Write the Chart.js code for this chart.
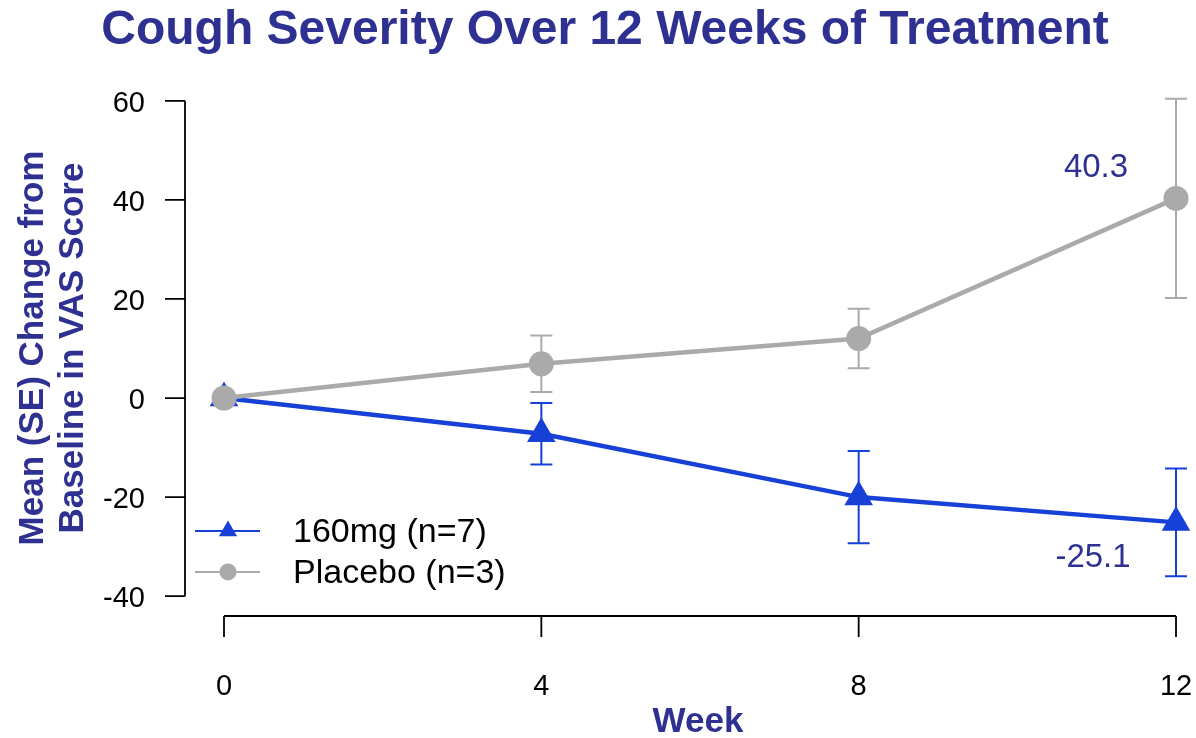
<!DOCTYPE html>
<html>
<head>
<meta charset="utf-8">
<title>Cough Severity</title>
<script src="https://cdn.jsdelivr.net/npm/chart.js"></script>
<style>
  html, body { margin: 0; padding: 0; background: #ffffff; }
  #wrap { position: relative; width: 1196px; height: 738px; }
</style>
</head>
<body>
<div id="wrap"><canvas id="coughChart" width="1196" height="738"></canvas></div>
<script>
// weeks of treatment and mean (SE) change from baseline in VAS score
var weeks = [0, 4, 8, 12];
var mean160 = [0, -7.2, -20.0, -25.1];
var se160 = [0, 6.2, 9.3, 10.9];
var meanPbo = [0, 6.9, 12.0, 40.3];
var sePbo = [0, 5.7, 6.0, 20.1];
var yTicks = [-40, -20, 0, 20, 40, 60];
var xTicks = [0, 4, 8, 12];
var seriesNames = ['160mg (n=7)', 'Placebo (n=3)'];

var BLUE = '#1640D6';
var GREY = '#AAAAAA';
var NAVY = '#2E3192';
var FONT = '"Liberation Sans", Arial, Helvetica, sans-serif';

function toPoints(xs, ys) {
    return xs.map(function (x, i) { return { x: x, y: ys[i] }; });
}

// mean +/- SE whiskers, drawn under the markers
var errorBars = {
    id: 'errorBars',
    beforeDatasetsDraw: function (chart) {
        var ctx = chart.ctx;
        var xs = chart.scales.x, ys = chart.scales.y;
        chart.data.datasets.forEach(function (ds) {
            ctx.save();
            ctx.strokeStyle = ds.borderColor;
            ctx.lineWidth = 2;
            ds.data.forEach(function (p, i) {
                var se = ds.se[i];
                if (!se) return;
                var px = xs.getPixelForValue(p.x);
                var top = ys.getPixelForValue(p.y + se);
                var bot = ys.getPixelForValue(p.y - se);
                ctx.beginPath();
                ctx.moveTo(px, top); ctx.lineTo(px, bot);
                ctx.moveTo(px - 11, top); ctx.lineTo(px + 11, top);
                ctx.moveTo(px - 11, bot); ctx.lineTo(px + 11, bot);
                ctx.stroke();
            });
            ctx.restore();
        });
    }
};

// axes, titles, end labels and legend
var decorations = {
    id: 'decorations',
    afterDraw: function (chart) {
        var ctx = chart.ctx;
        var xs = chart.scales.x, ys = chart.scales.y;
        var left = chart.chartArea.left, bottom = chart.chartArea.bottom;
        ctx.save();
        ctx.strokeStyle = '#000';
        ctx.fillStyle = '#000';
        ctx.lineWidth = 1.8;

        // y axis
        var yTop = ys.getPixelForValue(yTicks[yTicks.length - 1]);
        var yBot = ys.getPixelForValue(yTicks[0]);
        ctx.beginPath();
        ctx.moveTo(left, yTop); ctx.lineTo(left, yBot);
        yTicks.forEach(function (t) {
            var py = ys.getPixelForValue(t);
            ctx.moveTo(left - 20, py); ctx.lineTo(left, py);
        });
        ctx.stroke();
        ctx.font = '29px ' + FONT;
        ctx.textAlign = 'right';
        ctx.textBaseline = 'alphabetic';
        yTicks.forEach(function (t) {
            ctx.fillText(String(t), left - 40, ys.getPixelForValue(t) + 11);
        });

        // x axis
        var xL = xs.getPixelForValue(xTicks[0]);
        var xR = xs.getPixelForValue(xTicks[xTicks.length - 1]);
        ctx.beginPath();
        ctx.moveTo(xL, bottom); ctx.lineTo(xR, bottom);
        xTicks.forEach(function (t) {
            var px = xs.getPixelForValue(t);
            ctx.moveTo(px, bottom); ctx.lineTo(px, bottom + 21);
        });
        ctx.stroke();
        ctx.textAlign = 'center';
        xTicks.forEach(function (t) {
            ctx.fillText(String(t), xs.getPixelForValue(t), bottom + 79);
        });

        // titles
        ctx.fillStyle = NAVY;
        ctx.font = 'bold 48px ' + FONT;
        ctx.fillText('Cough Severity Over 12 Weeks of Treatment', 605, 44);
        ctx.font = 'bold 35px ' + FONT;
        ctx.fillText('Week', 698, 732);
        ctx.save();
        ctx.translate(43, 348);
        ctx.rotate(-Math.PI / 2);
        ctx.fillText('Mean (SE) Change from', 0, 0);
        ctx.restore();
        ctx.save();
        ctx.translate(83, 348);
        ctx.rotate(-Math.PI / 2);
        ctx.fillText('Baseline in VAS Score', 0, 0);
        ctx.restore();

        // values at week 12
        var last = weeks.length - 1;
        var x12 = xs.getPixelForValue(weeks[last]);
        ctx.font = '33px ' + FONT;
        ctx.fillText(meanPbo[last].toFixed(1), x12 - 80, ys.getPixelForValue(meanPbo[last]) - 21);
        ctx.fillText(mean160[last].toFixed(1), x12 - 83, ys.getPixelForValue(mean160[last]) + 45);

        // legend
        var rows = [
            { name: seriesNames[0], color: BLUE, style: 'triangle', r: 10.5, y: 531 },
            { name: seriesNames[1], color: GREY, style: 'circle', r: 8.5, y: 572 }
        ];
        rows.forEach(function (row) {
            ctx.strokeStyle = row.color;
            ctx.fillStyle = row.color;
            ctx.lineWidth = 2;
            ctx.beginPath();
            ctx.moveTo(195, row.y); ctx.lineTo(260, row.y);
            ctx.stroke();
            Chart.helpers.drawPoint(ctx, { pointStyle: row.style, radius: row.r, borderWidth: 0 }, 228, row.y);
            ctx.fillStyle = '#000';
            ctx.font = '34px ' + FONT;
            ctx.textAlign = 'left';
            ctx.fillText(row.name, 293, row.y + 11);
        });
        ctx.restore();
    }
};

new Chart(document.getElementById('coughChart').getContext('2d'), {
    type: 'line',
    data: {
        datasets: [
            {
                label: seriesNames[0],
                data: toPoints(weeks, mean160),
                se: se160,
                borderColor: BLUE,
                backgroundColor: BLUE,
                borderWidth: 4.5,
                pointStyle: 'triangle',
                pointRadius: 16.5,
                pointBorderWidth: 0,
                order: 2
            },
            {
                label: seriesNames[1],
                data: toPoints(weeks, meanPbo),
                se: sePbo,
                borderColor: GREY,
                backgroundColor: GREY,
                borderWidth: 4.5,
                pointStyle: 'circle',
                pointRadius: 12.5,
                pointBorderWidth: 0,
                order: 1
            }
        ]
    },
    options: {
        responsive: false,
        animation: false,
        devicePixelRatio: 1,
        layout: { autoPadding: false, padding: { left: 185, top: 81, bottom: 122, right: 0 } },
        clip: false,
        scales: {
            x: { type: 'linear', display: false, min: -0.4916, max: 12.252 },
            y: { type: 'linear', display: false, min: -44, max: 64 }
        },
        plugins: {
            legend: { display: false },
            title: { display: false },
            tooltip: { enabled: false }
        }
    },
    plugins: [errorBars, decorations]
});
</script>
</body>
</html>
